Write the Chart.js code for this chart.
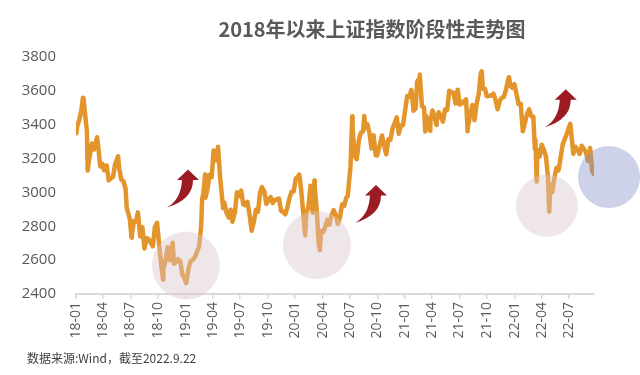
<!DOCTYPE html>
<html><head><meta charset="utf-8">
<script src="https://cdn.jsdelivr.net/npm/chart.js@4.4.0/dist/chart.umd.min.js"></script>
<style>
html,body{margin:0;padding:0;background:#fff;}
#wrap{position:relative;width:640px;height:375px;overflow:hidden;}
#c{position:absolute;left:0;top:0;}
#title{position:absolute;top:17px;left:0;width:744px;text-align:center;font-family:"Noto Sans CJK SC";font-weight:bold;font-size:20px;color:#595959;line-height:24px;white-space:nowrap;}
#src{position:absolute;left:27px;top:349px;font-family:"Noto Sans CJK SC";font-size:12px;color:#404040;line-height:17px;white-space:nowrap;}
</style></head>
<body><div id="wrap"><canvas id="c" width="640" height="375"></canvas>
<div id="title">2018年以来上证指数阶段性走势图</div>
<div id="src">数据来源:Wind，截至2022.9.22</div></div>
<script>
// ---- data (Shanghai Composite closes) ----
const dates2018 = ['01-02','01-05','01-12','01-19','01-24','01-26','02-01','02-06',
'02-09','02-14','02-23','03-02','03-12','03-16','03-23','03-30',
'04-04','04-13','04-20','04-27','05-04','05-11','05-21','05-25',
'06-01','06-08','06-15','06-19','06-22','06-29','07-05','07-06',
'07-13','07-20','07-26','08-03','08-10','08-17','08-24','08-31',
'09-07','09-14','09-21','09-28','10-11','10-18','10-19','10-26',
'11-02','11-09','11-19','11-23','11-30','12-07','12-14','12-21',
'12-28'];
const values2018 = [3349,3391,3429,3488,3559,3558,3447,3370,
3129,3199,3289,3254,3326,3269,3153,3169,
3131,3159,3071,3082,3091,3163,3214,3141,
3075,3067,3022,2907,2889,2847,2733,2747,
2831,2829,2882,2740,2795,2669,2730,2725,
2703,2682,2797,2821,2583,2486,2550,2598,
2676,2599,2703,2579,2588,2606,2594,2516,
2494];
const dates2019 = ['01-03','01-11','01-18','01-25','02-01','02-15','02-22','02-25',
'03-01','03-07','03-08','03-15','03-22','03-29','04-04','04-08',
'04-12','04-19','04-26','05-06','05-10','05-17','05-24','05-31',
'06-06','06-14','06-21','06-28','07-05','07-12','07-19','07-26',
'08-02','08-09','08-16','08-23','08-30','09-06','09-12','09-20',
'09-27','10-11','10-18','10-25','11-01','11-08','11-15','11-22',
'11-29','12-06','12-13','12-20','12-27','12-31'];
const values2019 = [2464,2553,2596,2601,2618,2682,2804,2961,
2994,3106,2969,3021,3104,3091,3247,3245,
3189,3270,3086,2907,2939,2882,2853,2898,
2827,2882,3001,2979,3011,2930,2924,2945,
2868,2774,2824,2897,2886,2999,3031,3006,
2932,2973,2938,2955,2958,2964,2891,2885,
2871,2912,2967,3004,3005,3050];
const dates2020 = ['01-03','01-10','01-14','01-17','01-23','02-03','02-07','02-14',
'02-21','02-28','03-05','03-06','03-13','03-19','03-23','03-27',
'04-03','04-10','04-17','04-24','04-30','05-08','05-15','05-22',
'05-29','06-05','06-12','06-19','06-24','07-03','07-09','07-10',
'07-17','07-24','07-31','08-07','08-14','08-18','08-21','08-28',
'09-04','09-11','09-18','09-25','09-30','10-16','10-23','10-30',
'11-06','11-13','11-20','11-27','12-04','12-11','12-18','12-25',
'12-31'];
const values2020 = [3083,3092,3106,3075,2976,2746,2876,2917,
3039,2880,3071,3034,2887,2702,2660,2772,
2764,2797,2838,2809,2860,2895,2868,2814,
2852,2930,2920,2968,2980,3152,3450,3383,
3214,3197,3310,3354,3360,3451,3380,3404,
3355,3260,3338,3219,3218,3336,3278,3225,
3312,3311,3377,3408,3444,3347,3395,3397,
3473];
const dates2021 = ['01-08','01-15','01-22','01-29','02-05','02-10','02-18','02-19',
'02-26','03-05','03-09','03-12','03-19','03-25','03-26','04-02',
'04-09','04-15','04-16','04-23','04-30','05-07','05-14','05-21',
'05-28','06-04','06-11','06-18','06-25','07-02','07-09','07-16',
'07-23','07-28','07-30','08-06','08-13','08-20','08-27','09-03',
'09-10','09-13','09-17','09-24','09-30','10-15','10-22','10-29',
'11-05','11-12','11-19','11-26','12-03','12-10','12-13','12-17',
'12-24','12-31'];
const values2021 = [3570,3566,3606,3483,3496,3655,3675,3696,
3509,3502,3360,3453,3405,3364,3418,3484,
3451,3399,3426,3474,3447,3418,3490,3487,
3601,3592,3589,3525,3607,3519,3525,3539,
3550,3361,3397,3458,3517,3427,3522,3581,
3703,3715,3613,3613,3568,3572,3583,3547,
3491,3539,3560,3564,3607,3666,3681,3632,
3618,3640];
const dates2022 = ['01-07','01-14','01-21','01-28','02-11','02-18','02-25','03-04',
'03-09','03-11','03-15','03-16','03-18','03-25','04-01','04-08',
'04-15','04-22','04-26','04-29','05-06','05-13','05-20','05-27',
'06-02','06-10','06-17','06-24','07-01','07-05','07-08','07-15',
'07-22','07-29','08-05','08-12','08-19','08-26','09-02','09-09',
'09-16','09-22'];
const values2022 = [3580,3521,3523,3361,3462,3491,3451,3447,
3256,3309,3064,3170,3251,3212,3282,3252,
3211,3087,2886,3047,3001,3084,3146,3131,
3195,3285,3316,3349,3388,3405,3356,3228,
3270,3253,3227,3276,3258,3236,3186,3262,
3126,3108];

const tickDates = ['2018-01-01','2018-04-01','2018-07-01','2018-10-01','2019-01-01','2019-04-01','2019-07-01','2019-10-01',
'2020-01-01','2020-04-01','2020-07-01','2020-10-01','2021-01-01','2021-04-01','2021-07-01','2021-10-01',
'2022-01-01','2022-04-01','2022-07-01'];
const tickLabels = ['18-01','18-04','18-07','18-10','19-01','19-04','19-07','19-10',
'20-01','20-04','20-07','20-10','21-01','21-04','21-07','21-10',
'22-01','22-04','22-07'];
const yMin = 2400, yMax = 3800, yStep = 200;
const lastDate = '2022-09-22';

// annotation anchors (in data units)
const circleMarks = [
  {date:'2019-01-02', value:2568, r:34, color:'rgba(216,196,202,0.42)'},
  {date:'2020-03-13', value:2689, r:34, color:'rgba(216,196,202,0.42)'},
  {date:'2022-04-18', value:2921, r:31, color:'rgba(216,196,202,0.42)'},
  {date:'2022-11-11', value:3091, r:31, color:'rgba(130,142,197,0.40)'}
];
const arrowMarks = [
  {date:'2019-01-09', value:3136},
  {date:'2020-09-26', value:3044},
  {date:'2022-06-20', value:3609}
];

// ---- build ----
const day = s => (Date.UTC(+s.slice(0,4), +s.slice(5,7)-1, +s.slice(8,10)) - Date.UTC(2018,0,1)) / 864e5;
const years = [[2018,dates2018,values2018],[2019,dates2019,values2019],[2020,dates2020,values2020],[2021,dates2021,values2021],[2022,dates2022,values2022]];
const points = [];
years.forEach(([y, ds, vs]) => ds.forEach((d, i) => points.push({x: day(y + '-' + d), y: vs[i]})));
const tickDays = tickDates.map(day);

const annotate = {
  id: 'annotate',
  afterDatasetsDraw(chart) {
    const ctx = chart.ctx, xs = chart.scales.x, ys = chart.scales.y;
    ctx.save();
    circleMarks.forEach(c => {
      ctx.beginPath();
      ctx.arc(xs.getPixelForValue(day(c.date)), ys.getPixelForValue(c.value), c.r, 0, Math.PI * 2);
      ctx.fillStyle = c.color;
      ctx.fill();
    });
    arrowMarks.forEach(a => {
      const tx = xs.getPixelForValue(day(a.date)), ty = ys.getPixelForValue(a.value);
      ctx.beginPath();
      ctx.moveTo(tx, ty);
      ctx.lineTo(tx + 11, ty + 10.5);
      ctx.lineTo(tx + 5, ty + 10.5);
      ctx.quadraticCurveTo(tx + 5, ty + 30, tx - 21, ty + 38);
      ctx.quadraticCurveTo(tx - 7, ty + 30, tx - 6, ty + 10.5);
      ctx.lineTo(tx - 11, ty + 10.5);
      ctx.closePath();
      ctx.fillStyle = '#9B1C22';
      ctx.fill();
    });
    ctx.restore();
  }
};

new Chart(document.getElementById('c'), {
  type: 'line',
  data: {
    datasets: [{
      label: '上证指数',
      data: points,
      borderColor: '#E3952B',
      borderWidth: 4.5,
      borderJoinStyle: 'round',
      borderCapStyle: 'round',
      pointRadius: 0,
      tension: 0,
      fill: false
    }]
  },
  options: {
    responsive: false,
    animation: false,
    devicePixelRatio: 1,
    layout: {padding: {left: 6, right: 46, top: 57, bottom: 21}},
    plugins: {legend: {display: false}, tooltip: {enabled: false}, title: {display: false}},
    scales: {
      x: {
        type: 'linear',
        min: 0,
        max: day(lastDate),
        afterBuildTicks: s => { s.ticks = tickDays.map(v => ({value: v})); },
        afterFit: s => { s.height = 60; },
        grid: {display: true, drawOnChartArea: false, drawTicks: true, tickLength: 5, color: '#D9D9D9', lineWidth: 1.5},
        border: {display: true, color: '#D9D9D9', width: 2},
        ticks: {
          autoSkip: false, minRotation: 90, maxRotation: 90, padding: 3,
          color: '#595959', font: {family: 'Open Sans', size: 14},
          callback: (v, i) => tickLabels[i]
        }
      },
      y: {
        min: yMin, max: yMax,
        afterFit: s => { s.width = 70; },
        grid: {display: false, drawTicks: false},
        border: {display: false},
        ticks: {stepSize: yStep, padding: 20, color: '#595959', font: {family: 'Open Sans', size: 15},
          callback: v => String(v)}
      }
    }
  },
  plugins: [annotate]
});
</script>
</body></html>
